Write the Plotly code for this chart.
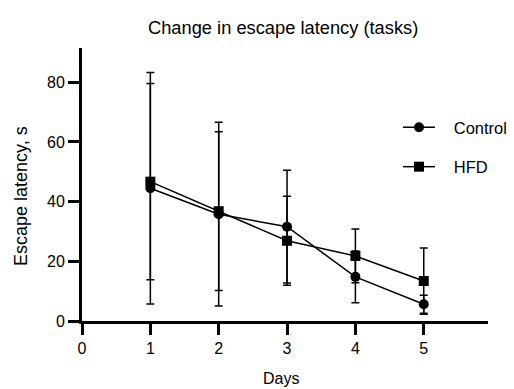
import plotly.graph_objects as go

days = [1, 2, 3, 4, 5]
control_mean = [44.5, 35.8, 31.6, 14.8, 5.6]
control_err = [38.8, 30.8, 18.9, 8.7, 3.0]
hfd_mean = [46.7, 36.8, 26.9, 21.8, 13.4]
hfd_err = [32.9, 26.6, 14.9, 9.0, 11.1]
x_ticks = [0, 1, 2, 3, 4, 5]
y_ticks = [0, 20, 40, 60, 80]

FONT = "Liberation Sans, Arial, sans-serif"

W, H = 514, 389
PL, PR, PT, PB = 82, 488, 48, 321  # plot area in page pixels
L, R, T, B = PL, W - PR, PT, H - PB
PW, PH = PR - PL, PB - PT


def px(x):
    return (x - PL) / PW


def py(y):
    return (PB - y) / PH


fig = go.Figure()
fig.add_trace(go.Scatter(
    x=days, y=control_mean, name="&nbsp;&nbsp;&nbsp;Control", mode="lines+markers",
    line=dict(color="black", width=1.5),
    marker=dict(symbol="circle", size=10, color="black"),
    error_y=dict(type="data", array=control_err, visible=True, color="black", thickness=1.5, width=4),
    legendgroup="a",
))
fig.add_trace(go.Scatter(
    x=days, y=hfd_mean, name="&nbsp;&nbsp;&nbsp;HFD", mode="lines+markers",
    line=dict(color="black", width=1.5),
    marker=dict(symbol="square", size=10, color="black"),
    error_y=dict(type="data", array=hfd_err, visible=True, color="black", thickness=1.5, width=4),
    legendgroup="b",
))

fig.update_layout(
    width=W, height=H, autosize=False,
    margin=dict(l=L, r=R, t=T, b=B, pad=0, autoexpand=False),
    paper_bgcolor="white", plot_bgcolor="white",
    font=dict(family=FONT, size=16, color="black"),
    showlegend=True,
    legend=dict(xref="container", yref="container", x=398 / W, y=1 - 110 / H,
                xanchor="left", yanchor="top",
                bgcolor="rgba(0,0,0,0)", font=dict(size=16.5), tracegroupgap=15,
                traceorder="grouped", itemwidth=32),
    xaxis=dict(range=[0, 5.94], tickvals=x_ticks, ticktext=[str(v) for v in x_ticks],
               showline=True, linecolor="black", linewidth=3, ticks="outside", ticklen=11,
               tickwidth=3, tickcolor="black", showgrid=False, zeroline=False,
               tickfont=dict(size=16)),
    yaxis=dict(range=[0, 91.5], tickvals=y_ticks, ticktext=[str(v) for v in y_ticks],
               showline=True, linecolor="black", linewidth=3, ticks="outside", ticklen=11,
               tickwidth=3, tickcolor="black", showgrid=False, zeroline=False,
               tickfont=dict(size=16)),
    annotations=[
        dict(text="Change in escape latency (tasks)", x=px(283), y=py(27), xref="paper", yref="paper",
             xanchor="center", yanchor="middle", showarrow=False, font=dict(size=18.3)),
        dict(text="Escape latency, s", x=px(21), y=py(196), xref="paper", yref="paper",
             xanchor="center", yanchor="middle", showarrow=False, textangle=-90, font=dict(size=18)),
        dict(text="Days", x=px(281), y=py(378), xref="paper", yref="paper",
             xanchor="center", yanchor="middle", showarrow=False, font=dict(size=16)),
    ],
)

fig.write_html(
    "out.html",
    config={"responsive": False, "displayModeBar": False},
    post_script="document.body.style.margin='0';document.body.style.overflow='hidden';",
)
